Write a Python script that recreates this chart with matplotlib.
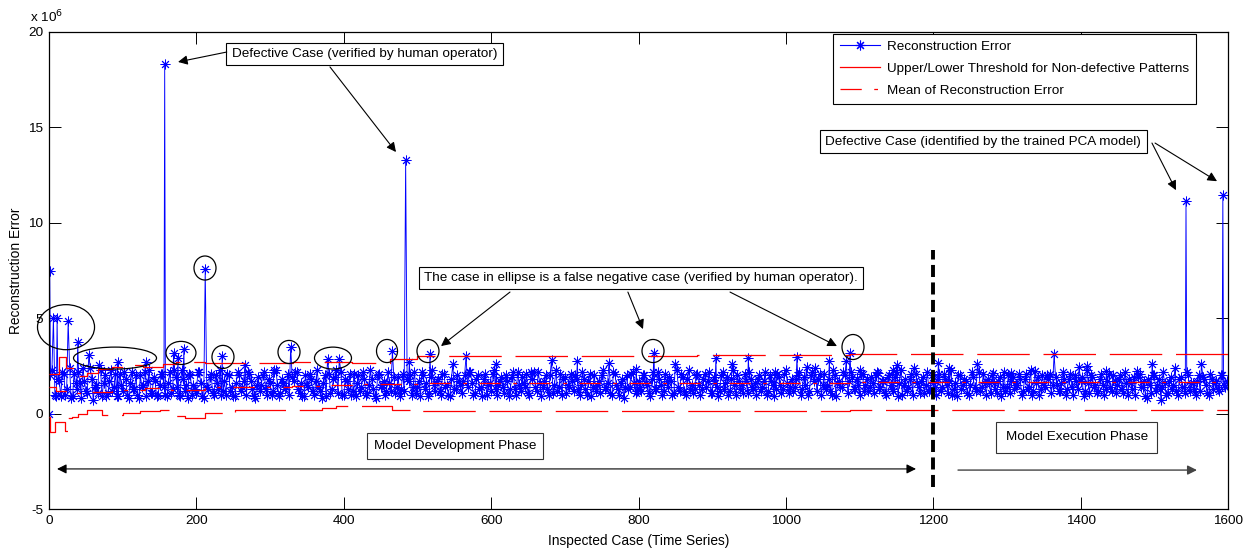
import numpy as np
import matplotlib
matplotlib.use("Agg")
import matplotlib.pyplot as plt
from matplotlib.lines import Line2D
from matplotlib.patches import Ellipse

plt.rcParams['font.family'] = ['Liberation Sans', 'DejaVu Sans']

# ---------------- data (values in units of 1e6) ----------------
base_step = 4
base_values = [
    0.0, 2.3, 1.0, 1.8, 0.9, 2.1, 1.3, 2.4, 0.9, 1.6, 2.2, 0.8, 1.7, 1.1, 2.4, 0.7, 1.5, 2.2, 0.9, 2.0,
    1.1, 2.3, 1.4, 0.9, 2.1, 1.2, 1.8, 0.8, 2.2, 1.3, 1.0, 2.0, 1.5, 0.9, 2.3, 1.1, 1.7, 1.0, 2.1, 1.4,
    0.9, 2.2, 1.3, 1.9, 1.0, 2.3, 1.2, 0.8, 2.0, 1.5, 1.1, 2.2, 0.9, 1.8, 1.3, 2.1, 1.0, 1.6, 2.3, 1.2,
    1.0, 2.0, 1.4, 0.9, 2.2, 1.2, 1.7, 1.0, 2.1, 1.3, 0.8, 1.9, 1.5, 2.2, 1.0, 1.6, 1.2, 2.3, 0.9, 1.8,
    1.3, 2.1, 1.0, 1.7, 2.2, 1.1, 0.9, 2.0, 1.4, 1.8, 1.0, 2.3, 1.2, 1.6, 0.9, 2.1, 1.3, 1.9, 1.1, 2.2,
    1.0, 1.7, 2.1, 1.2, 0.9, 2.0, 1.4, 1.8, 1.1, 2.3, 1.3, 0.8, 2.1, 1.5, 1.0, 2.2, 1.2, 1.9, 1.4, 0.9,
    2.1, 1.3, 1.7, 1.0, 2.2, 1.4, 0.9, 2.0, 1.6, 1.1, 2.3, 1.2, 1.8, 1.0, 2.1, 1.5, 0.9, 2.2, 1.3, 1.7,
    1.1, 2.0, 1.4, 2.2, 1.0, 1.8, 1.3, 0.9, 2.1, 1.5, 1.2, 2.3, 1.0, 1.7, 1.4, 2.0, 0.9, 1.9, 1.3, 2.2,
    1.2, 1.6, 2.1, 1.0, 1.8, 1.4, 2.2, 0.9, 1.7, 1.3, 2.0, 1.1, 2.3, 1.4, 1.0, 1.9, 1.5, 2.1, 1.2, 1.8,
    1.0, 2.2, 1.3, 1.7, 0.9, 2.0, 1.5, 1.1, 2.3, 1.4, 1.8, 1.0, 2.1, 1.3, 1.6, 0.8, 2.0, 1.4, 2.2, 1.1,
    1.7, 1.2, 2.0, 1.5, 0.9, 2.2, 1.3, 1.8, 1.0, 2.1, 1.4, 1.7, 1.1, 2.3, 1.2, 1.9, 1.0, 2.0, 1.5, 1.3,
    2.1, 1.0, 1.8, 1.4, 2.2, 1.1, 1.6, 0.9, 2.0, 1.3, 1.9, 1.2, 2.3, 1.0, 1.7, 1.5, 2.1, 1.1, 1.8, 1.3,
    1.0, 2.0, 1.4, 2.2, 1.2, 1.7, 0.9, 2.1, 1.5, 1.3, 2.3, 1.1, 1.8, 1.4, 2.0, 1.0, 1.9, 1.6, 1.2, 2.2,
    1.3, 1.8, 1.0, 2.1, 1.5, 1.2, 2.3, 0.9, 1.7, 1.4, 2.0, 1.1, 2.2, 1.3, 1.8, 1.0, 2.1, 1.5, 1.2, 1.9,
    1.1, 2.2, 1.4, 1.7, 1.0, 2.0, 1.3, 1.9, 0.9, 2.3, 1.5, 1.2, 1.8, 1.0, 2.1, 1.4, 1.7, 1.1, 2.2, 1.3,
    1.6, 1.0, 2.1, 1.4, 1.8, 1.1, 2.3, 1.3, 0.9, 2.0, 1.5, 1.7, 1.0, 2.2, 1.4, 1.9, 1.2, 2.1, 1.0, 1.6,
    2.0, 1.3, 1.7, 0.9, 2.2, 1.4, 1.1, 1.9, 1.5, 2.1, 1.0, 1.8, 1.3, 2.3, 1.2, 1.6, 1.0, 2.0, 1.4, 1.8,
    1.1, 2.1, 1.5, 1.2, 2.2, 1.0, 1.8, 1.4, 2.0, 1.3, 1.7, 0.9, 2.3, 1.1, 1.9, 1.5, 1.2, 2.1, 1.0, 1.7,
    1.4, 2.0, 1.1, 1.8, 1.3, 2.2, 1.0, 1.6, 1.9, 1.2, 2.1, 1.4, 0.9, 1.8, 1.1, 2.0, 1.5, 1.3, 2.2, 1.0,
    1.7, 1.3, 2.1, 1.0, 1.9, 1.4, 2.2, 1.2, 1.6, 1.0, 2.0, 1.5, 1.8, 1.1, 2.1, 1.3, 1.7, 1.2, 2.0, 1.4,
    1.6,
]
# in-between cases (x = 2, 6, 10, ...)
mid_values = [
    2.0, 1.4, 0.9, 1.7, 2.2, 1.0, 1.5, 0.8, 2.1, 1.3, 1.6, 2.4, 1.2, 0.9, 1.8, 1.4, 1.1, 2.3, 1.6, 0.9,
    1.7, 1.2, 2.1, 0.9, 1.5, 2.2, 1.0, 1.6, 1.3, 2.0, 0.8, 1.4, 2.2, 1.7, 1.1, 1.9, 0.9, 1.5, 2.1, 1.0,
    1.6, 1.1, 2.3, 1.4, 0.9, 1.8, 1.5, 2.1, 1.0, 1.3, 2.2, 1.6, 0.8, 1.4, 1.9, 1.1, 2.0, 1.3, 1.0, 1.7,
    2.1, 1.2, 0.9, 1.6, 2.0, 1.4, 1.1, 2.2, 1.7, 0.9, 1.5, 1.2, 2.0, 1.3, 1.8, 1.0, 2.2, 1.5, 1.1, 1.6,
    1.4, 1.0, 1.9, 2.2, 1.3, 1.6, 0.9, 1.5, 2.1, 1.2, 1.7, 1.4, 0.8, 2.0, 1.5, 1.1, 1.8, 2.3, 1.3, 1.0,
    1.8, 1.3, 1.0, 2.1, 1.6, 1.2, 2.2, 1.0, 1.5, 1.8, 0.9, 2.0, 1.4, 1.7, 1.2, 1.6, 2.1, 1.1, 1.9, 1.3,
    1.2, 1.8, 2.0, 1.4, 1.1, 1.7, 2.2, 1.3, 0.9, 1.9, 1.5, 1.7, 1.2, 2.1, 1.4, 1.0, 1.8, 1.3, 2.0, 1.5,
    1.7, 1.3, 2.2, 1.6, 1.1, 2.0, 1.4, 1.8, 1.0, 1.6, 2.1, 1.3, 1.5, 1.9, 1.1, 1.7, 1.3, 2.2, 1.0, 1.5,
    1.9, 1.4, 1.1, 1.8, 2.2, 1.2, 1.6, 1.4, 2.0, 1.0, 1.7, 1.5, 1.2, 2.1, 1.8, 1.1, 1.4, 1.7, 2.0, 1.3,
    1.5, 1.8, 1.0, 2.1, 1.4, 1.2, 1.7, 2.0, 1.3, 1.6, 1.1, 2.2, 1.5, 1.0, 1.8, 1.4, 1.3, 2.1, 1.6, 1.2,
    1.4, 2.0, 1.6, 1.1, 1.8, 1.3, 2.2, 1.5, 1.2, 1.7, 1.9, 1.0, 1.6, 1.4, 2.1, 1.2, 1.8, 1.3, 1.1, 2.0,
    1.5, 1.3, 2.1, 1.7, 1.1, 1.9, 1.4, 1.2, 2.2, 1.6, 1.0, 1.8, 1.5, 2.0, 1.3, 1.1, 1.7, 2.2, 1.4, 1.6,
    1.8, 1.2, 1.7, 1.0, 2.0, 1.5, 1.3, 1.9, 1.1, 2.1, 1.6, 1.4, 1.2, 1.8, 2.2, 1.3, 1.5, 1.0, 2.0, 1.7,
    1.2, 2.1, 1.5, 1.3, 1.8, 1.0, 2.0, 1.6, 1.4, 2.2, 1.1, 1.7, 1.9, 1.3, 1.5, 2.1, 1.2, 1.8, 1.4, 1.6,
    2.0, 1.3, 1.7, 1.1, 1.9, 1.5, 1.2, 2.2, 1.6, 1.0, 1.8, 1.4, 2.1, 1.3, 1.6, 1.1, 1.9, 1.5, 1.2, 2.0,
    1.4, 1.8, 1.2, 2.1, 1.5, 1.7, 1.0, 1.6, 2.0, 1.3, 1.8, 1.1, 1.5, 1.9, 1.2, 2.2, 1.4, 1.6, 1.8, 1.1,
    1.6, 1.1, 1.9, 1.4, 1.2, 2.0, 1.7, 1.3, 1.5, 1.8, 1.2, 2.1, 1.4, 1.0, 1.7, 1.9, 1.3, 1.5, 2.0, 1.2,
    1.5, 1.9, 1.2, 1.6, 1.8, 1.3, 2.1, 1.0, 1.7, 1.4, 1.9, 1.2, 1.6, 2.0, 1.4, 1.1, 1.8, 1.5, 1.3, 2.1,
    1.2, 1.7, 1.5, 2.0, 1.1, 1.6, 1.8, 1.3, 1.0, 1.9, 1.4, 1.7, 0.8, 1.5, 2.0, 1.2, 1.8, 1.4, 1.6, 1.1,
    1.9, 1.5, 1.2, 1.8, 1.4, 1.1, 2.0, 1.6, 1.3, 1.7, 1.2, 1.9, 1.5, 1.0, 1.8, 1.6, 1.3, 2.0, 1.5, 1.7,
]
spike_x = [1, 6, 11, 26, 39, 54, 68, 93, 131, 157, 169, 175, 183, 212, 235, 266, 305, 328, 378, 394,
           466, 484, 489, 517, 548, 566, 607, 654, 682, 717, 760, 797, 821, 850, 868, 905, 927, 949, 985,
           1015, 1028, 1040, 1059, 1082, 1087, 1101, 1125, 1145, 1151, 1174, 1207, 1221, 1260, 1281,
           1305, 1338, 1358, 1364, 1398, 1409, 1435, 1476, 1497, 1509, 1528, 1543, 1564, 1593]
spike_y = [7.45, 5.0, 5.0, 4.85, 3.75, 3.07, 2.55, 2.69, 2.69, 18.3, 3.19, 2.9, 3.39, 7.56, 3.02, 2.55,
           2.28, 3.5, 2.86, 2.86, 3.3, 13.3, 2.72, 3.12, 2.58, 3.04, 2.58, 2.2, 2.81, 2.77, 2.67, 2.32,
           3.19, 2.58, 2.28, 2.9, 2.58, 2.9, 2.2, 2.95, 2.46, 2.37, 2.77, 2.77, 3.19, 2.28, 2.11, 2.28,
           2.55, 2.41, 2.67, 2.41, 2.58, 2.11, 2.11, 2.23, 2.1, 3.11, 2.46, 2.5, 2.23, 2.23, 2.58, 0.71,
           2.41, 11.14, 2.58, 11.46]

upper_x = [0, 14, 23, 37, 51, 67, 85, 100, 128, 155, 173, 212, 331, 411, 463, 500, 880, 1087, 1600]
upper_y = [2.05, 2.98, 2.37, 1.97, 2.11, 2.32, 2.45, 2.55, 2.43, 2.6, 2.72, 2.64, 2.69, 2.64, 2.85, 3.02, 3.07, 3.12, 3.12]
mean_x = [0, 10, 35, 52, 85, 130, 165, 212, 330, 380, 411, 500, 1087, 1600]
mean_y = [1.4, 1.2, 1.06, 1.15, 1.24, 1.33, 1.24, 1.38, 1.46, 1.5, 1.53, 1.59, 1.64, 1.64]
lower_x = [0, 2, 8, 22, 26, 31, 40, 51, 72, 100, 123, 150, 164, 173, 184, 212, 252, 370, 390, 465, 500, 1087, 1600]
lower_y = [-0.2, -0.95, -0.42, -0.9, -0.25, -0.16, 0.0, 0.19, -0.05, 0.03, 0.15, 0.17, 0.03, -0.15,
           -0.25, 0.05, 0.19, 0.28, 0.40, 0.19, 0.14, 0.19, 0.19]

x_ticks = [0, 200, 400, 600, 800, 1000, 1200, 1400, 1600]
y_ticks = [-5, 0, 5, 10, 15, 20]

# merge base series, in-between cases and spikes
series = {i * base_step: v for i, v in enumerate(base_values)}
for i, v in enumerate(mid_values):
    series[i * base_step + 2] = v
for sx, sy in zip(spike_x, spike_y):
    series[sx] = sy
rx = np.array(sorted(series))
ry = np.array([series[k] for k in rx])

# ---------------- figure ----------------
W, H = 1249, 556
fig = plt.figure(figsize=(W / 100, H / 100), dpi=100)
ax = fig.add_axes([49 / W, 47 / H, 1179 / W, 477 / H])
ax.set_xlim(0, 1600)
ax.set_ylim(-5, 20)

star = (8, 2, 0)
ax.plot(rx, ry, color='blue', lw=0.65, marker=star, ms=7, mew=0.65, zorder=2)

red = (1, 0, 0)
ax.plot(upper_x, upper_y, color=red, lw=0.9, drawstyle='steps-post', dashes=(42, 11), zorder=3)
ax.plot(lower_x, lower_y, color=red, lw=0.9, drawstyle='steps-post', dashes=(42, 11), zorder=3)
ax.plot(mean_x, mean_y, color=red, lw=0.9, drawstyle='steps-post', dashes=(17, 10, 3, 10), zorder=3)

# phase separator
ax.plot([1200, 1200], [-3.85, 8.57], color='black', lw=2.8, dashes=(3.1, 1.4), zorder=4)

# ellipses
ell = [(23.1, 4.53, 77.4, 2.36), (89.6, 2.91, 112.6, 1.15), (179.1, 3.18, 40.7, 1.21),
       (211.7, 7.63, 29.9, 1.26), (236.1, 2.97, 29.9, 1.21), (325.7, 3.23, 29.9, 1.21),
       (385.4, 2.91, 50.2, 1.15), (458.7, 3.28, 28.5, 1.21), (514.3, 3.28, 29.9, 1.21),
       (819.7, 3.28, 29.9, 1.21), (1091.1, 3.49, 29.9, 1.31)]
for cx, cy, w, h in ell:
    ax.add_patch(Ellipse((cx, cy), w, h, fill=False, ec='black', lw=0.9, zorder=5, clip_on=False))

fs = 9.7
box = dict(boxstyle='square,pad=0.4', fc='white', ec='black', lw=0.8)
ax.text(428.1, 18.85, 'Defective Case (verified by human operator)', fontsize=fs,
        ha='center', va='center', bbox=box, zorder=6)
ax.text(1268, 14.26, 'Defective Case (identified by the trained PCA model)', fontsize=fs,
        ha='center', va='center', bbox=box, zorder=6)
ax.text(803.4, 7.11, 'The case in ellipse is a false negative case (verified by human operator).',
        fontsize=fs, ha='center', va='center', bbox=box, zorder=6)
ax.text(551, -1.70, 'Model Development Phase', fontsize=fs, ha='center', va='center',
        bbox=dict(boxstyle='square,pad=0.5', fc='white', ec='#333333', lw=0.8), zorder=6)
ax.text(1395, -1.25, 'Model Execution Phase', fontsize=fs, ha='center', va='center',
        bbox=dict(boxstyle='square,pad=0.7', fc='white', ec='#333333', lw=0.8), zorder=6)

ap = dict(arrowstyle='-|>', color='black', lw=0.8, mutation_scale=14, shrinkA=0, shrinkB=0)
arrows = [((241.2, 18.95), (175.1, 18.43)), ((381.3, 18.17), (470.9, 13.71)),
          ((1496.8, 14.18), (1529.4, 11.71)), ((1501.0, 14.18), (1585.1, 12.18)),
          ((625.6, 6.37), (532.0, 3.54)), ((785.6, 6.37), (806.1, 4.43)),
          ((924.2, 6.37), (1069.3, 3.54))]
for s, t in arrows:
    ax.annotate('', xy=t, xytext=s, arrowprops=ap, zorder=6, annotation_clip=False)
ax.annotate('', xy=(1176.6, -2.90), xytext=(10.9, -2.90),
            arrowprops=dict(arrowstyle='<|-|>', color='black', lw=0.8, mutation_scale=14,
                            shrinkA=0, shrinkB=0))
ax.annotate('', xy=(1557.9, -2.96), xytext=(1233.6, -2.96),
            arrowprops=dict(arrowstyle='-|>', color='#444444', lw=1.0, mutation_scale=14,
                            shrinkA=0, shrinkB=0))

# axes styling
ax.set_xticks(x_ticks)
ax.set_yticks(y_ticks)
ax.set_xticklabels([str(v) for v in x_ticks])
ax.set_yticklabels([str(v) for v in y_ticks])
ax.tick_params(direction='in', length=8.6, width=0.7, top=True, right=True,
               labelsize=9.7, pad=4)
for sp in ax.spines.values():
    sp.set_linewidth(0.9)
ax.set_xlabel('Inspected Case (Time Series)', fontsize=9.9, labelpad=5)
ax.set_ylabel('Reconstruction Error', fontsize=9.9, labelpad=4)
fig.text(30 / W, 1 - 17 / H, r'x 10$^{6}$', fontsize=9.7, ha='left', va='center')

handles = [Line2D([], [], color='blue', lw=0.8, marker=star, ms=7, mew=0.8),
           Line2D([], [], color=red, lw=0.9),
           Line2D([], [], color=red, lw=0.9, dashes=(17, 10, 3, 10))]
labels = ['Reconstruction Error', 'Upper/Lower Threshold for Non-defective Patterns',
          'Mean of Reconstruction Error']
leg = ax.legend(handles, labels, loc='upper left', bbox_to_anchor=((833 - 49) / 1179, (509 - 34) / 477),
                fontsize=fs, frameon=True, fancybox=False, framealpha=1, edgecolor='black',
                handlelength=3.0, handletextpad=0.5, labelspacing=0.7, borderpad=0.5,
                numpoints=1, borderaxespad=0)
leg.get_frame().set_linewidth(0.8)
leg.set_zorder(7)

fig.savefig('out.png', dpi=100)
